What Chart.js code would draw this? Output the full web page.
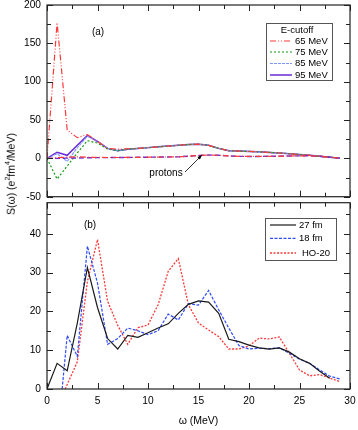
<!DOCTYPE html>
<html>
<head>
<meta charset="utf-8">
<title>S(omega)</title>
<script src="https://cdn.jsdelivr.net/npm/chart.js"></script>
<style>
  body { margin: 0; background: #fff; }
  #wrap { position: relative; width: 358px; height: 430px; font-family: "Liberation Sans", Arial, sans-serif; }
  #topBox { position: absolute; left: 0; top: 0; width: 358px; height: 200px; }
  #botBox { position: absolute; left: 0; top: 197px; width: 358px; height: 233px; }
  #ytitle { position: absolute; left: 10px; top: 174px; transform: translate(-50%, -50%) rotate(-90deg); font-size: 10.5px; font-weight: normal; white-space: nowrap; color: #000; }
  #ytitle sup { font-size: 7px; }
</style>
</head>
<body>
<div id="wrap">
  <div id="topBox"><canvas id="chartA" width="358" height="200"></canvas></div>
  <div id="botBox"><canvas id="chartB" width="358" height="233"></canvas></div>
  <div id="ytitle">S(&omega;) (e<sup>2</sup>fm<sup>4</sup>/MeV)</div>
</div>
<script>
// panel (a): E-cutoff comparison
const omegaA = [0, 1, 2, 3, 4, 5, 6, 7, 8, 9, 10, 11, 12, 13, 14, 15, 16, 17, 18, 19, 20, 21, 22, 23, 24, 25, 26, 27, 28, 29];
const cut65 = [0, 177, 37, 27, 31, 22, 13, 12, 12.5, 13, 14, 15, 16, 17, 18, 18.5, 17, 13, 10, 9.5, 9, 8.5, 7.8, 7, 6, 5, 4, 2.8, 1.5, 0.3];
const cut75 = [0, -27, -10, 7, 23, 20, 12, 10, 12, 13, 14, 15, 16, 17, 18, 18.5, 17, 13, 10, 9.5, 9, 8.5, 7.8, 7, 6, 5, 4, 2.8, 1.5, 0.3];
const cut85 = [0, 6, -4, 14, 29, 22, 13, 10, 12, 13, 14, 15, 16, 17, 18, 18.5, 17, 13, 10, 9.5, 9, 8.5, 7.8, 7, 6, 5, 4, 2.8, 1.5, 0.3];
const cut95 = [0, 8, 4, 17, 30, 22, 13, 10, 12, 13, 14, 15, 16, 17, 18, 18.5, 17, 13, 10, 9.5, 9, 8.5, 7.8, 7, 6, 5, 4, 2.8, 1.5, 0.3];
const protons65 = [0, 0.8, 1.5, 2, 1.5, 1.2, 1.1, 1.1, 1.2, 1.4, 1.5, 1.7, 1.8, 2, 2.8, 3.8, 4.3, 4, 3.2, 2.6, 2.5, 2.5, 2.7, 2.9, 3.1, 3.3, 3.4, 2.6, 1.5, 0.3];
const protons95 = [0, 0, 0.3, 0.5, 0.7, 0.9, 1, 1.1, 1.2, 1.4, 1.5, 1.7, 1.8, 2, 2.8, 3.8, 4.3, 4, 3.2, 2.6, 2.5, 2.5, 2.7, 2.9, 3.1, 3.3, 3.4, 2.6, 1.5, 0.3];

// panel (b): box size comparison
const omega27 = [0, 1, 2, 3, 4, 5, 6, 7, 8, 9, 10, 11, 12, 13, 14, 15, 16, 17, 18, 19, 20, 21, 22, 23, 24, 25, 26, 27, 28];
const s27 = [0, 6.6, 4.7, 17, 31.3, 21, 13, 10.3, 13.8, 13.3, 14.5, 15.7, 16.8, 19.5, 21.8, 22.7, 22.4, 19.5, 12.8, 12.2, 11.3, 10.6, 10.3, 10.6, 9.5, 7.8, 6.6, 4.6, 2.8];
const omega18 = [1.5, 2, 3, 4, 5, 6, 7, 8, 9, 10, 11, 12, 13, 14, 15, 16, 17, 18, 19, 20, 21, 22, 23, 24, 25, 26, 27, 28, 29];
const s18 = [0, 13.8, 8.4, 36.8, 27.3, 11.5, 13, 15.7, 15, 14, 15, 19.3, 17.8, 22, 21.6, 25.4, 20.4, 15.7, 11.2, 10.3, 10.5, 10.4, 10.6, 9.2, 7.7, 6.6, 4.9, 3.3, 2.6];
const omegaHO = [1.8, 3, 4, 5, 6, 7, 8, 9, 10, 11, 12, 13, 14, 15, 16, 17, 18, 19, 20, 21, 22, 23, 24, 25, 26, 27, 28, 29];
const sHO = [0, 7, 27.7, 38.5, 22.6, 16.4, 11.5, 15.8, 16.5, 21.7, 30.3, 33.6, 21.7, 17, 15.2, 13.5, 10.3, 10.3, 11.1, 13.1, 12.9, 13.4, 9.2, 4.9, 3.4, 3.7, 2.8, 1.9];

const xTicks = [0, 5, 10, 15, 20, 25, 30];
const yTicksA = [-50, 0, 50, 100, 150, 200];
const yTicksB = [0, 10, 20, 30, 40];

const FONT = "'Liberation Sans', Arial, sans-serif";
Chart.defaults.font.family = FONT;
Chart.defaults.font.size = 10.2;
Chart.defaults.color = '#000';

function pts(xs, ys) {
    return xs.map((x, i) => ({ x: x, y: ys[i] }));
}

// box round the plot with inward ticks on all four sides
const frameTicks = {
    id: 'frameTicks',
    afterDraw(chart, args, opts) {
        const { ctx, chartArea: a, scales } = chart;
        const x = scales.x, y = scales.y;
        ctx.save();
        ctx.strokeStyle = '#222';
        ctx.lineWidth = 1;
        ctx.beginPath();
        for (let v = x.min; v <= x.max + 1e-9; v += opts.xMinor) {
            const px = Math.round(x.getPixelForValue(v)) + 0.5;
            const major = Math.abs(v / opts.xMajor - Math.round(v / opts.xMajor)) < 1e-6;
            const len = major ? 6 : 4;
            ctx.moveTo(px, a.bottom); ctx.lineTo(px, a.bottom - len);
            ctx.moveTo(px, a.top); ctx.lineTo(px, a.top + len);
        }
        for (let v = y.min; v <= y.max + 1e-9; v += opts.yMinor) {
            const py = Math.round(y.getPixelForValue(v)) + 0.5;
            const major = Math.abs(v / opts.yMajor - Math.round(v / opts.yMajor)) < 1e-6;
            const len = major ? 6 : 4;
            ctx.moveTo(a.left, py); ctx.lineTo(a.left + len, py);
            ctx.moveTo(a.right, py); ctx.lineTo(a.right - len, py);
        }
        ctx.stroke();
        ctx.lineWidth = 1.2;
        ctx.strokeRect(a.left, a.top, a.right - a.left, a.bottom - a.top);
        ctx.restore();
    }
};

// boxed legend drawn inside the plot
const boxLegend = {
    id: 'boxLegend',
    afterDraw(chart, args, opts) {
        const ctx = chart.ctx;
        ctx.save();
        ctx.strokeStyle = '#555';
        ctx.lineWidth = 1;
        ctx.fillStyle = '#fff';
        ctx.fillRect(opts.box[0], opts.box[1], opts.box[2], opts.box[3]);
        ctx.strokeRect(opts.box[0] + 0.5, opts.box[1] + 0.5, opts.box[2], opts.box[3]);
        ctx.font = '9.5px ' + FONT;
        ctx.fillStyle = '#000';
        ctx.textBaseline = 'middle';
        if (opts.title) {
            ctx.textAlign = 'center';
            ctx.fillText(opts.title, opts.titleX, opts.titleY);
        }
        let row = 0;
        chart.data.datasets.forEach(ds => {
            if (ds.noLegend) return;
            const yy = opts.rows[row++];
            ctx.beginPath();
            ctx.strokeStyle = ds.borderColor;
            ctx.lineWidth = ds.borderWidth;
            ctx.setLineDash(ds.borderDash || []);
            ctx.moveTo(opts.lineX[0], yy);
            ctx.lineTo(opts.lineX[1], yy);
            ctx.stroke();
            ctx.setLineDash([]);
            ctx.textAlign = 'left';
            ctx.fillText(ds.label, opts.textX + (ds.textShift || 0), yy);
        });
        ctx.restore();
    }
};

// panel labels and the protons arrow
const notes = {
    id: 'notes',
    afterDraw(chart, args, opts) {
        const ctx = chart.ctx;
        ctx.save();
        ctx.fillStyle = '#000';
        ctx.font = '10px ' + FONT;
        ctx.textAlign = 'center';
        ctx.textBaseline = 'middle';
        (opts.texts || []).forEach(t => ctx.fillText(t.text, t.x, t.y));
        if (opts.arrow) {
            const [x1, y1, x2, y2] = opts.arrow;
            ctx.strokeStyle = '#000';
            ctx.lineWidth = 0.8;
            ctx.beginPath();
            ctx.moveTo(x1, y1);
            ctx.lineTo(x2, y2);
            ctx.stroke();
            const ang = Math.atan2(y2 - y1, x2 - x1);
            ctx.beginPath();
            ctx.moveTo(x2, y2);
            ctx.lineTo(x2 - 5 * Math.cos(ang - 0.35), y2 - 5 * Math.sin(ang - 0.35));
            ctx.lineTo(x2 - 5 * Math.cos(ang + 0.35), y2 - 5 * Math.sin(ang + 0.35));
            ctx.closePath();
            ctx.fill();
        }
        ctx.restore();
    }
};

function lineSet(label, xs, ys, color, dash, width, extra) {
    return Object.assign({
        label: label,
        data: pts(xs, ys),
        borderColor: color,
        borderDash: dash,
        borderWidth: width,
        pointRadius: 0,
        fill: false,
        tension: 0
    }, extra || {});
}

function xScale(showLabels) {
    return {
        type: 'linear',
        min: 0,
        max: 30,
        grid: { display: false, drawTicks: false },
        border: { display: false },
        ticks: {
            display: showLabels,
            padding: 6,
            stepSize: 5,
            callback: (v) => xTicks.includes(v) ? String(v) : ''
        },
        title: showLabels ? { display: true, text: 'ω (MeV)', font: { size: 10.5 }, padding: { top: 0, bottom: 3 } } : { display: false },
        afterFit: (s) => {
            s.height = showLabels ? 41 : 0;
            s.paddingLeft = 0;
            s.paddingRight = 0;
        }
    };
}

function yAxisFit(s) {
    s.width = 47;
    s.paddingTop = 0;
    s.paddingBottom = 0;
}

new Chart(document.getElementById('chartA'), {
    type: 'line',
    data: {
        datasets: [
            lineSet('protons', omegaA, protons65, '#ff3a3a', [6, 2, 1, 2], 1.2, { noLegend: true }),
            lineSet('protons', omegaA, protons95, '#6a2bd9', [5, 3], 1.4, { noLegend: true }),
            lineSet('65 MeV', omegaA, cut65, '#ff3a3a', [6, 2, 1, 2, 1, 2], 1.2),
            lineSet('75 MeV', omegaA, cut75, '#109c10', [2, 2], 1.2),
            lineSet('85 MeV', omegaA, cut85, '#7d95ff', [3, 1], 1.2),
            lineSet('95 MeV', omegaA, cut95, '#6a2bd9', [], 1.5)
        ]
    },
    options: {
        responsive: false,
        animation: false,
        layout: { padding: { left: 0, right: 8, top: 5, bottom: 3.3 } },
        plugins: {
            legend: { display: false },
            tooltip: { enabled: false },
            frameTicks: { xMinor: 2.5, xMajor: 5, yMinor: 25, yMajor: 50 },
            boxLegend: {
                box: [266, 23, 66, 57],
                title: 'E-cutoff', titleX: 297, titleY: 30,
                rows: [41, 52, 63.5, 75],
                lineX: [270, 292], textX: 295
            },
            notes: {
                texts: [{ text: '(a)', x: 98, y: 32 }, { text: 'protons', x: 166, y: 173 }],
                arrow: [185, 172, 202, 155]
            }
        },
        scales: {
            x: xScale(false),
            y: {
                type: 'linear',
                min: -50,
                max: 200,
                grid: { display: false, drawTicks: false },
                border: { display: false },
                ticks: { padding: 6, stepSize: 50, callback: (v) => yTicksA.includes(v) ? String(v) : '' },
                afterFit: yAxisFit
            }
        }
    },
    plugins: [frameTicks, boxLegend, notes]
});

new Chart(document.getElementById('chartB'), {
    type: 'line',
    data: {
        datasets: [
            lineSet('27 fm', omega27, s27, '#1a1a1a', [], 1.2),
            lineSet('18 fm', omega18, s18, '#2f4cff', [3, 1.5], 1.2),
            lineSet('HO-20', omegaHO, sHO, '#ff3a3a', [2, 1.5], 1.3, { textShift: 3 })
        ]
    },
    options: {
        responsive: false,
        animation: false,
        layout: { padding: { left: 0, right: 8, top: 5.7, bottom: 0 } },
        plugins: {
            legend: { display: false },
            tooltip: { enabled: false },
            frameTicks: { xMinor: 2.5, xMajor: 5, yMinor: 5, yMajor: 10 },
            boxLegend: {
                box: [265, 21, 71, 42],
                rows: [28, 41.3, 56],
                lineX: [270, 296], textX: 299
            },
            notes: {
                texts: [{ text: '(b)', x: 90, y: 28 }]
            }
        },
        scales: {
            x: xScale(true),
            y: {
                type: 'linear',
                min: 0,
                max: 48,
                grid: { display: false, drawTicks: false },
                border: { display: false },
                ticks: { padding: 6, stepSize: 10, includeBounds: false, callback: (v) => yTicksB.includes(v) ? String(v) : '' },
                afterFit: yAxisFit
            }
        }
    },
    plugins: [frameTicks, boxLegend, notes]
});
</script>
</body>
</html>
